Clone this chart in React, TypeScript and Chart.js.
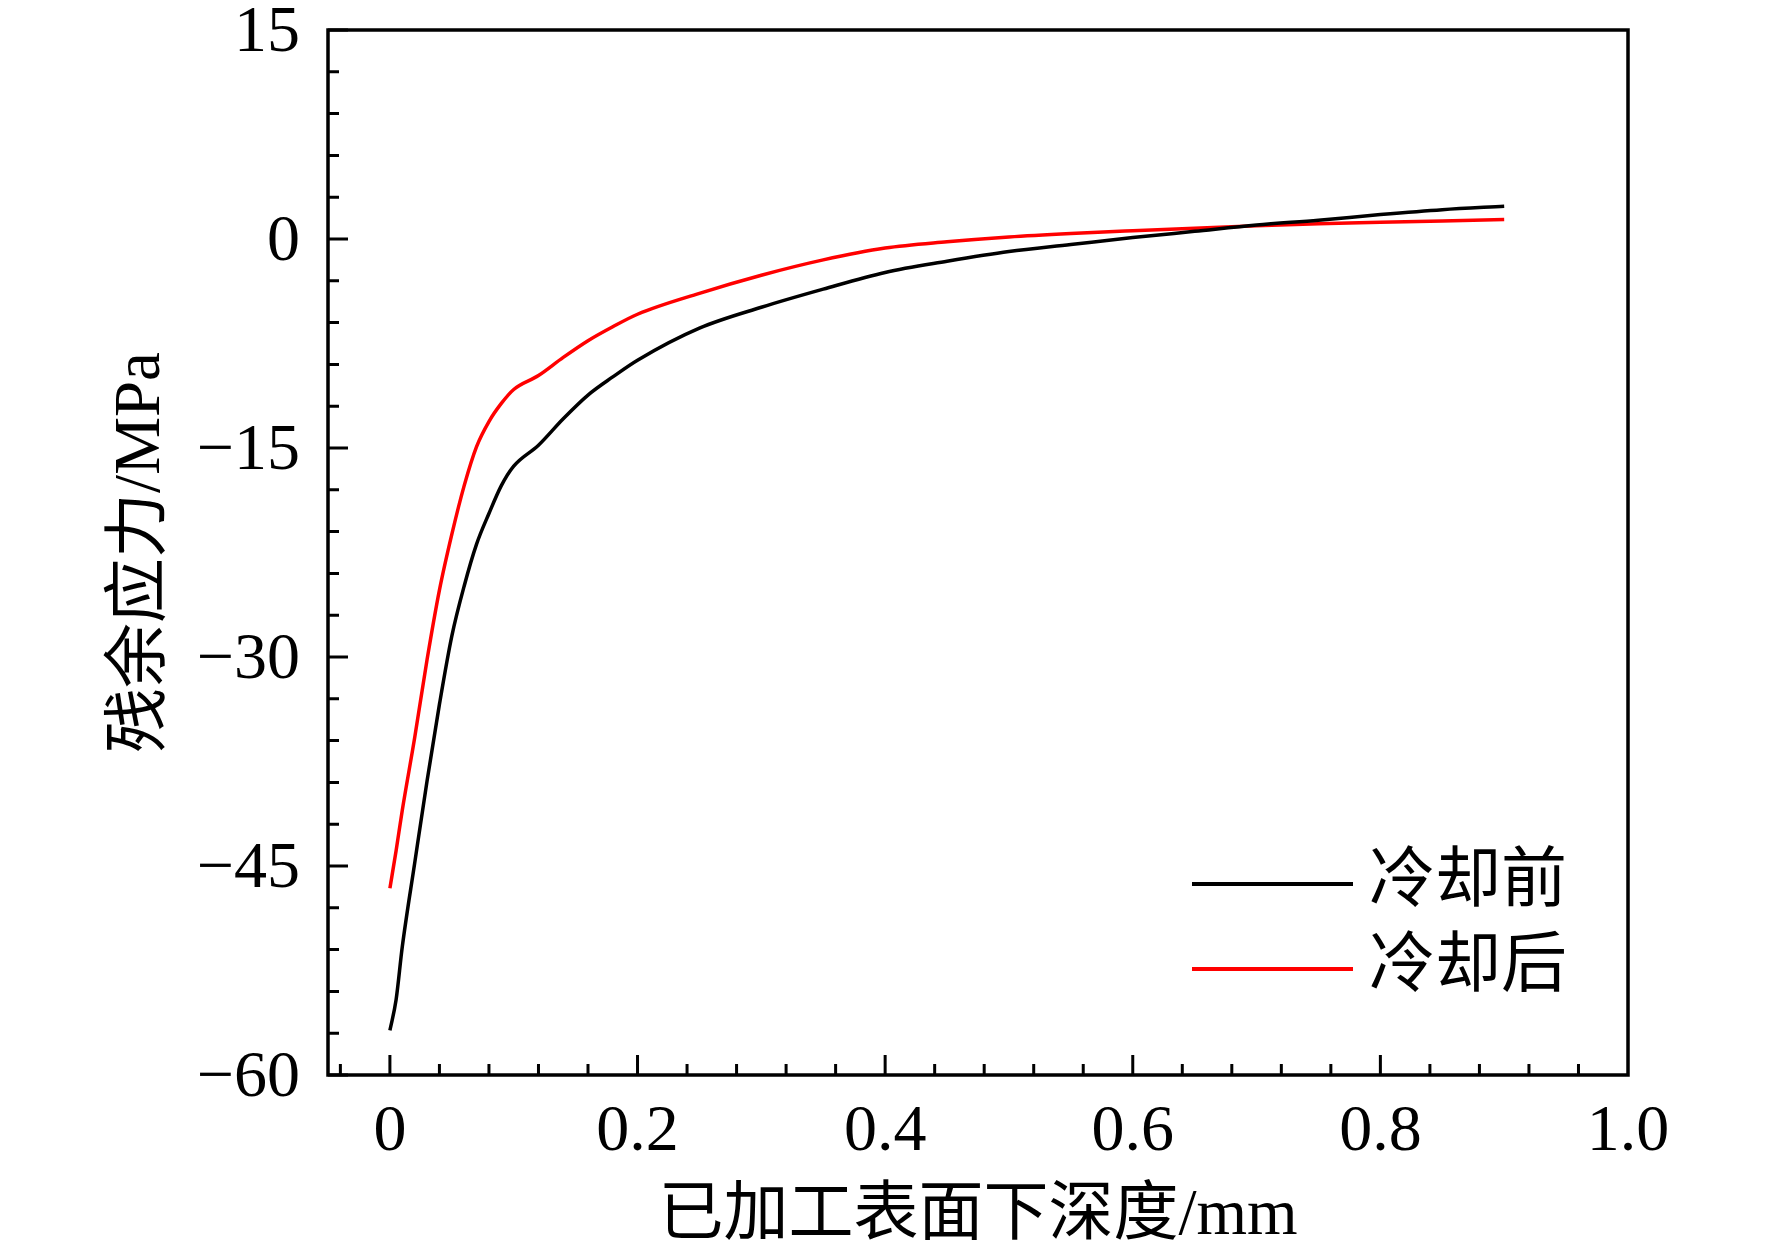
import React, { useEffect, useRef } from "react";
import { Chart, registerables } from "chart.js";

Chart.register(...registerables);

// depth below machined surface (mm)
const depth = [
  0, 0.005, 0.01, 0.02, 0.03, 0.04, 0.05, 0.06, 0.07, 0.08, 0.09, 0.1, 0.12,
  0.14, 0.16, 0.18, 0.2, 0.25, 0.3, 0.35, 0.4, 0.45, 0.5, 0.55, 0.6, 0.65, 0.7,
  0.75, 0.8, 0.85, 0.9,
];
// residual stress (MPa)
const stressBefore = [
  -56.8, -54.6, -50.8, -44.8, -38.9, -33.4, -28.5, -24.9, -21.9, -19.7, -17.7,
  -16.3, -14.8, -12.9, -11.2, -9.9, -8.7, -6.4, -4.9, -3.6, -2.4, -1.6, -0.9,
  -0.4, 0.1, 0.55, 1.0, 1.35, 1.75, 2.1, 2.35,
];
const stressAfter = [
  -46.6, -43.9, -41.0, -35.8, -30.2, -25.2, -21.2, -17.7, -14.9, -13.1, -11.8,
  -10.8, -9.8, -8.5, -7.3, -6.3, -5.4, -3.9, -2.6, -1.5, -0.65, -0.2, 0.15,
  0.4, 0.6, 0.78, 0.95, 1.1, 1.2, 1.3, 1.4,
];
const seriesLabels = ["冷却前", "冷却后"];
const seriesColors = ["#000000", "#ff0000"];
const xTicks = [0, 0.2, 0.4, 0.6, 0.8, 1.0];
const yTicks = [-60, -45, -30, -15, 0, 15];

const FONT = "'Liberation Serif', 'Noto Sans CJK SC', serif";

// frame, inward ticks and legend inside the plot
const framePlugin = {
  id: "frame",
  afterDraw(chart: any) {
    const { ctx, chartArea: a, scales } = chart;
    const xs = scales.x;
    const ys = scales.y;
    ctx.save();
    ctx.strokeStyle = "#000";
    ctx.lineWidth = 3;
    ctx.beginPath();
    for (let i = -20; i <= 5; i++) {
      const py = ys.getPixelForValue(i * 3);
      const len = i % 5 === 0 ? 20 : 11;
      ctx.moveTo(a.left, py);
      ctx.lineTo(a.left + len, py);
    }
    for (let i = -1; i <= 24; i++) {
      const px = xs.getPixelForValue(i * 0.04);
      const len = i % 5 === 0 ? 20 : 11;
      ctx.moveTo(px, a.bottom);
      ctx.lineTo(px, a.bottom - len);
    }
    ctx.stroke();
    ctx.lineWidth = 3.5;
    ctx.strokeRect(a.left, a.top, a.right - a.left, a.bottom - a.top);

    // legend
    const x0 = a.left + 864;
    const x1 = a.left + 1025;
    const tx = a.left + 1041;
    ctx.font = "66px " + FONT;
    ctx.textBaseline = "middle";
    ctx.textAlign = "left";
    chart.data.datasets.forEach((ds: any, i: number) => {
      const yy = a.top + 854 + i * 85;
      ctx.strokeStyle = ds.borderColor;
      ctx.lineWidth = 4;
      ctx.beginPath();
      ctx.moveTo(x0, yy);
      ctx.lineTo(x1, yy);
      ctx.stroke();
      ctx.fillStyle = "#000";
      ctx.fillText(ds.label, tx, yy);
    });
    ctx.restore();
  },
};

const App = () => {
  const canvasRef = useRef<HTMLCanvasElement>(null);

  useEffect(() => {
    document.body.style.margin = "0";
    let myChart: Chart | null = null;
    if (canvasRef.current) {
      const ctx = canvasRef.current.getContext("2d");
      if (ctx) {
        myChart = new Chart(ctx, {
          type: "line",
          data: {
            datasets: [stressBefore, stressAfter].map((s, i) => ({
              label: seriesLabels[i],
              data: depth.map((d, j) => ({ x: d, y: s[j] })),
              borderColor: seriesColors[i],
              backgroundColor: seriesColors[i],
              borderWidth: 3.5,
              pointRadius: 0,
              fill: false,
              cubicInterpolationMode: "monotone" as const,
            })),
          },
          options: {
            animation: false,
            responsive: true,
            maintainAspectRatio: false,
            layout: { padding: { top: 30, right: 144, bottom: 0, left: 0 } },
            plugins: {
              legend: { display: false },
              tooltip: { enabled: false },
            },
            scales: {
              x: {
                type: "linear",
                min: -0.05,
                max: 1.0,
                grid: { display: false, drawTicks: false },
                border: { display: false },
                afterBuildTicks: (s: any) => {
                  s.ticks = xTicks.map((v) => ({ value: v }));
                },
                afterFit: (s: any) => {
                  s.height = 183;
                  s.paddingLeft = 0;
                  s.paddingRight = 0;
                },
                ticks: {
                  color: "#000",
                  font: { family: FONT, size: 66 },
                  padding: 18,
                  maxRotation: 0,
                  autoSkip: false,
                  callback: (v: any) => (v === 0 ? "0" : Number(v).toFixed(1)),
                },
                title: {
                  display: true,
                  text: "已加工表面下深度/mm",
                  color: "#000",
                  font: { family: FONT, size: 65 },
                  padding: { top: 0, bottom: 2 },
                },
              },
              y: {
                type: "linear",
                min: -60,
                max: 15,
                grid: { display: false, drawTicks: false },
                border: { display: false },
                afterBuildTicks: (s: any) => {
                  s.ticks = yTicks.map((v) => ({ value: v }));
                },
                afterFit: (s: any) => {
                  s.width = 328;
                  s.paddingTop = 0;
                  s.paddingBottom = 0;
                },
                ticks: {
                  color: "#000",
                  font: { family: FONT, size: 66 },
                  padding: 28,
                  labelOffset: 4,
                  autoSkip: false,
                  callback: (v: any) =>
                    Number(v) < 0 ? "\u2212" + Math.abs(Number(v)) : String(v),
                },
                title: {
                  display: true,
                  text: "残余应力/MPa",
                  color: "#000",
                  font: { family: FONT, size: 65 },
                  padding: { top: 103, bottom: 0 },
                },
              },
            },
          },
          plugins: [framePlugin],
        });
      }
    }
    return () => {
      if (myChart) {
        myChart.destroy();
      }
    };
  }, []);

  return (
    <div style={{ width: "1772px", height: "1258px", position: "relative", background: "#fff" }}>
      <canvas ref={canvasRef} />
    </div>
  );
};

export default App;
